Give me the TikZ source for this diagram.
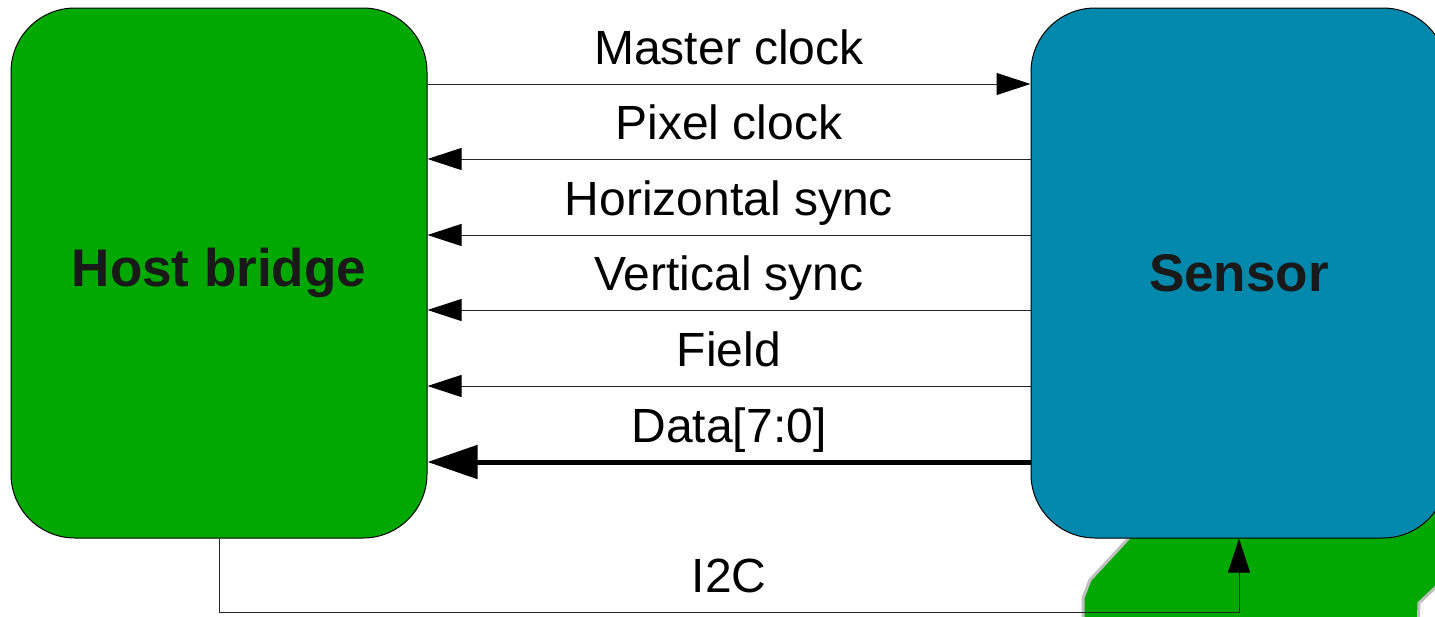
\documentclass[tikz,border=0pt]{standalone}
\usepackage{fontspec}
\setmainfont{Liberation Sans}
\usetikzlibrary{arrows.meta,positioning}
\definecolor{hostgreen}{RGB}{0,168,0}
\definecolor{sensorblue}{RGB}{0,137,172}
\tikzset{
	block/.style={draw=black,line width=0.5pt,rounded corners=32pt,minimum width=208pt,minimum height=265pt,inner sep=0pt,font=\fontsize{26.5}{30}\selectfont\bfseries,text=black!90},
	sig/.style={line width=0.5pt,draw=black!85,-{Triangle[length=17pt,width=11pt,black]}},
	bus/.style={line width=2.5pt,-{Triangle[length=25pt,width=16.5pt]}},
	lbl/.style={midway,anchor=base,yshift=10pt,font=\fontsize{24}{28}\selectfont}
}
\begin{document}
\begin{tikzpicture}[x=0.5pt,y=-0.5pt]
	\useasboundingbox (0,0) rectangle (1435,616);
	\clip (0,0) rectangle (1435,616);
	% green patch under the sensor
	\fill[hostgreen,draw=gray!50,line width=1.5pt] (1160,500)--(1127,540)--(1090,580)--(1083,598)--(1083,630)--(1418,630)--(1419,603)--(1437,586)--(1460,500)--cycle;
	\node[block,fill=hostgreen] (host) at (219,273) {Host bridge};
	\node[block,fill=sensorblue] (sensor) at (1239,273) {Sensor};
	\draw[sig](host.east |- 0,84)--node[lbl] {Master clock}(sensor.west |- 0,84);
	\draw[sig](sensor.west |- 0,159)--node[lbl] {Pixel clock}(host.east |- 0,159);
	\draw[sig](sensor.west |- 0,235)--node[lbl] {Horizontal sync}(host.east |- 0,235);
	\draw[sig](sensor.west |- 0,310)--node[lbl] {Vertical sync}(host.east |- 0,310);
	\draw[sig](sensor.west |- 0,386)--node[lbl] {Field}(host.east |- 0,386);
	\draw[bus](sensor.west |- 0,462)--node[lbl] {Data[7:0]}(host.east |- 0,462);
	\draw[sig](host.south)--(host.south |- 0,612)--node[lbl] {I2C}(sensor.south |- 0,612)--(sensor.south);
\end{tikzpicture}
\end{document}
